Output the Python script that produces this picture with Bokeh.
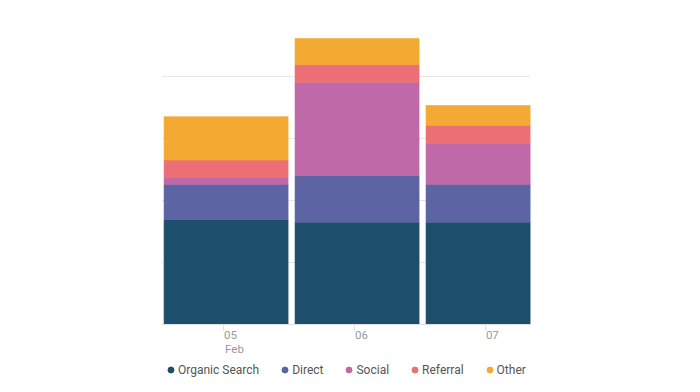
import numpy as np
from bokeh.plotting import figure
from bokeh.layouts import column
from bokeh.models import ColumnDataSource, Legend, LegendItem, FixedTicker, LinearAxis
from bokeh.transform import dodge
from bokeh.embed import file_html
from bokeh.resources import INLINE

days = [5, 6, 7]
day_labels = ["05", "06", "07"]
month_days = [5]
month_labels = ["Feb"]
series = ["Organic Search", "Direct", "Social", "Referral", "Other"]
organic = [169, 165, 165]
direct = [57, 75, 61]
social = [11, 150, 66]
referral = [28, 29, 29]
other = [70, 42, 32]
colors = ["#1d4e6b", "#5c64a4", "#c069a8", "#ec6f76", "#f3aa33"]

keys = ["organic", "direct", "social", "referral", "other"]
source = ColumnDataSource(dict(x=days, organic=organic, direct=direct,
                               social=social, referral=referral, other=other))

p = figure(frame_width=369, frame_height=304, output_backend="svg", toolbar_location=None,
           x_range=(4.527, 7.344), y_range=(0, 490),
           min_border_left=161, min_border_right=162, min_border_top=20,
           min_border_bottom=36)
p.outline_line_color = None
p.background_fill_color = "white"

p.vbar_stack(keys, x=dodge("x", 0.02), width=0.947, fill_color=colors, line_color=colors,
             line_width=0.6, source=source)

p.yaxis.visible = False
p.ygrid.grid_line_color = "#e6e6e6"
p.xgrid.grid_line_color = None
p.ygrid.ticker = FixedTicker(ticks=[0, 100, 200, 300, 400])

# main axis: line + tick marks only
ax = p.xaxis[0]
ax.ticker = FixedTicker(ticks=days)
ax.major_label_overrides = {d: "" for d in days}
ax.axis_line_color = "#e0e0e0"
ax.major_tick_line_color = "#e0e0e0"
ax.major_tick_in = 0
ax.major_tick_out = 6
ax.minor_tick_line_color = None
ax.major_label_text_font_size = "1px"
ax.major_label_standoff = 0

label_style = dict(axis_line_color=None, major_tick_line_color=None,
                   minor_tick_line_color=None, major_tick_in=0, major_tick_out=0,
                   major_label_text_color="#999999", major_label_text_font="Roboto",
                   major_label_text_font_size="11.5px", major_label_standoff=0)

# day labels, drawn starting at the tick (left aligned look)
off_day = 0.053
day_ticks = [d + off_day for d in days]
ax2 = LinearAxis(ticker=FixedTicker(ticks=day_ticks),
                 major_label_overrides={t: l for t, l in zip(day_ticks, day_labels)},
                 **label_style)
p.add_layout(ax2, "below")

off_month = 0.084
month_ticks = [d + off_month for d in month_days]
ax3 = LinearAxis(ticker=FixedTicker(ticks=month_ticks),
                 major_label_overrides={t: l for t, l in zip(month_ticks, month_labels)},
                 **label_style)
p.add_layout(ax3, "below")

# legend in its own strip below (its frame is aligned with the main frame)
leg = figure(width=692, height=22, output_backend="svg", toolbar_location=None,
             x_range=(0, 1), y_range=(0, 1), min_border=0)
leg.outline_line_color = None
leg.axis.visible = False
leg.grid.visible = False
items = []
for name, c in zip(series, colors):
    r = leg.scatter(x=[np.nan], y=[np.nan], marker="circle", size=7, color=c)
    items.append(LegendItem(label=name, renderers=[r]))
legend = Legend(items=items, orientation="horizontal", location=(2, 5),
                glyph_width=15, glyph_height=15, label_standoff=0, spacing=18,
                padding=0, margin=0, border_line_color=None,
                label_text_font="Roboto", label_text_font_size="12px",
                label_text_color="#555555", background_fill_alpha=0)
leg.add_layout(legend, "center")

layout = column(p, leg, spacing=0)
open("out.html", "w").write(file_html(layout, INLINE))
